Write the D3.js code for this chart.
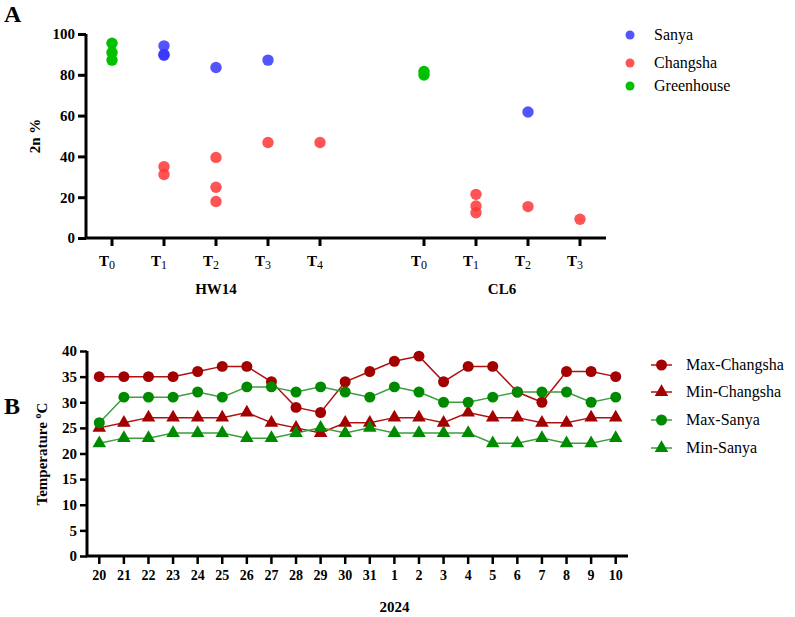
<!DOCTYPE html>
<html>
<head>
<meta charset="utf-8">
<script src="https://cdn.jsdelivr.net/npm/d3@7"></script>
<style>
  body { margin: 0; background: #fff; }
  svg text { font-family: "Liberation Serif", "Times New Roman", serif; }
</style>
</head>
<body>
<div id="chart"></div>
<script>
// ---- Panel A data: 2n % by time point, genotype and location ----
const slotsA = ["HW14-T0", "HW14-T1", "HW14-T2", "HW14-T3", "HW14-T4", "gap",
                "CL6-T0", "CL6-T1", "CL6-T2", "CL6-T3"];
const tickSubs = ["0", "1", "2", "3", "4", null, "0", "1", "2", "3"];
const groupsA = [{ name: "HW14", center: "HW14-T2" }, { name: "CL6", from: "CL6-T1", to: "CL6-T2" }];
const locations = ["Sanya", "Changsha", "Greenhouse"];
const sanyaPts = [
  ["HW14-T1", 94.2], ["HW14-T1", 89.6], ["HW14-T1", 90.0], ["HW14-T2", 83.6],
  ["HW14-T3", 87.2], ["CL6-T2", 61.8]
];
const changshaPts = [
  ["HW14-T1", 35.0], ["HW14-T1", 31.1], ["HW14-T2", 39.5], ["HW14-T2", 24.9],
  ["HW14-T2", 17.9], ["HW14-T3", 46.8], ["HW14-T4", 46.8],
  ["CL6-T1", 21.4], ["CL6-T1", 15.7], ["CL6-T1", 12.4], ["CL6-T2", 15.4], ["CL6-T3", 9.2]
];
const greenhousePts = [
  ["HW14-T0", 95.5], ["HW14-T0", 90.9], ["HW14-T0", 87.2],
  ["CL6-T0", 81.6], ["CL6-T0", 79.9]
];
const yTicksA = [0, 20, 40, 60, 80, 100];

// ---- Panel B data: daily temperature ----
const days = ["20", "21", "22", "23", "24", "25", "26", "27", "28", "29", "30", "31",
              "1", "2", "3", "4", "5", "6", "7", "8", "9", "10"];
const maxChangsha = [35, 35, 35, 35, 36, 37, 37, 34, 29, 28, 34, 36, 38, 39, 34, 37, 37, 32, 30, 36, 36, 35];
const minChangsha = [25, 26, 27, 27, 27, 27, 28, 26, 25, 24, 26, 26, 27, 27, 26, 28, 27, 27, 26, 26, 27, 27];
const maxSanya    = [26, 31, 31, 31, 32, 31, 33, 33, 32, 33, 32, 31, 33, 32, 30, 30, 31, 32, 32, 32, 30, 31];
const minSanya    = [22, 23, 23, 24, 24, 24, 23, 23, 24, 25, 24, 25, 24, 24, 24, 24, 22, 22, 23, 22, 22, 23];
const yTicksB = [0, 5, 10, 15, 20, 25, 30, 35, 40];

const FONT = "'Liberation Serif', 'Times New Roman', serif";
const svg = d3.select("#chart").append("svg")
  .attr("width", 795).attr("height", 617)
  .attr("font-family", FONT);

function styleAxis(ax, size) {
  ax.attr("font-family", FONT);
  ax.select(".domain").attr("stroke", "#000").attr("stroke-width", 3);
  ax.selectAll(".tick line").attr("stroke", "#000").attr("stroke-width", 3);
  ax.selectAll(".tick text").attr("font-size", size).attr("font-weight", "bold")
    .attr("fill", "#000").attr("font-family", FONT);
}

// ================= Panel A =================
const xA = d3.scaleBand().domain(slotsA).range([86, 606]);
const yA = d3.scaleLinear().domain([0, 100]).range([238, 34]);
const colorA = d3.scaleOrdinal().domain(locations).range(["#3636ff", "#ff3636", "#00c000"]);

svg.append("text").attr("x", 4).attr("y", 22)
  .attr("font-size", 24).attr("font-weight", "bold").text("A");

const gA = svg.append("g");
const yAxisA = gA.append("g").attr("transform", "translate(86,0)")
  .call(d3.axisLeft(yA).tickValues(yTicksA).tickSize(8).tickPadding(3));
const xAxisA = gA.append("g").attr("transform", "translate(0,238)")
  .call(d3.axisBottom(xA).tickValues(slotsA.filter(s => s !== "gap")).tickSize(8).tickFormat(""));
styleAxis(yAxisA, 15);
styleAxis(xAxisA, 15);
yAxisA.select(".domain").attr("d", "M0,238V34");
xAxisA.select(".domain").attr("d", "M85,0H606");

// T-subscript tick labels
slotsA.forEach((s, i) => {
  if (tickSubs[i] === null) return;
  const t = gA.append("text")
    .attr("x", xA(s) + xA.bandwidth() / 2 - 5).attr("y", 266)
    .attr("text-anchor", "middle").attr("font-size", 15);
  t.append("tspan").attr("font-weight", "bold").text("T");
  t.append("tspan").attr("font-size", 12).attr("dy", 3).text(tickSubs[i]);
});

groupsA.forEach(g => {
  const cx = g.center ? xA(g.center) + xA.bandwidth() / 2
    : (xA(g.from) + xA(g.to) + xA.bandwidth()) / 2;
  gA.append("text").attr("x", cx).attr("y", 294)
    .attr("text-anchor", "middle").attr("font-size", 15).attr("font-weight", "bold")
    .text(g.name);
});

gA.append("text")
  .attr("transform", "translate(40,136) rotate(-90)")
  .attr("text-anchor", "middle").attr("font-size", 15).attr("font-weight", "bold")
  .text("2n %");

const ptsA = [
  ...greenhousePts.map(d => ({ loc: "Greenhouse", slot: d[0], v: d[1] })),
  ...sanyaPts.map(d => ({ loc: "Sanya", slot: d[0], v: d[1] })),
  ...changshaPts.map(d => ({ loc: "Changsha", slot: d[0], v: d[1] }))
];
gA.selectAll("circle.pt").data(ptsA).enter().append("circle")
  .attr("class", "pt")
  .attr("cx", d => xA(d.slot) + xA.bandwidth() / 2)
  .attr("cy", d => yA(d.v))
  .attr("r", 5.7)
  .attr("fill", d => colorA(d.loc))
  .attr("fill-opacity", d => d.loc === "Greenhouse" ? 1 : 0.85);

const legA = svg.append("g");
const legAY = [35, 63, 86];
locations.forEach((loc, i) => {
  legA.append("circle").attr("cx", 630).attr("cy", legAY[i]).attr("r", 4.5)
    .attr("fill", colorA(loc)).attr("fill-opacity", loc === "Greenhouse" ? 1 : 0.85);
  legA.append("text").attr("x", 654).attr("y", legAY[i] + 5)
    .attr("font-size", 16).text(loc);
});

// ================= Panel B =================
const xB = d3.scaleBand().domain(days).range([87, 628]);
const yB = d3.scaleLinear().domain([0, 40]).range([556, 351]);
const cx = d => xB(d) + xB.bandwidth() / 2;

svg.append("text").attr("x", 4).attr("y", 414)
  .attr("font-size", 24).attr("font-weight", "bold").text("B");

const gB = svg.append("g");
const yAxisB = gB.append("g").attr("transform", "translate(87,0)")
  .call(d3.axisLeft(yB).tickValues(yTicksB).tickSize(7).tickPadding(3));
const xAxisB = gB.append("g").attr("transform", "translate(0,556)")
  .call(d3.axisBottom(xB).tickSize(8).tickPadding(6));
styleAxis(yAxisB, 15);
styleAxis(xAxisB, 14);
yAxisB.selectAll(".tick line").attr("stroke-width", 2.5);
xAxisB.selectAll(".tick line").attr("stroke-width", 2.5);
yAxisB.select(".domain").attr("d", "M0,556V351");
xAxisB.select(".domain").attr("d", "M86,0H628");

gB.append("text").attr("x", cx("1")).attr("y", 612)
  .attr("text-anchor", "middle").attr("font-size", 15).attr("font-weight", "bold")
  .text("2024");

const yLab = gB.append("text")
  .attr("transform", "translate(47,454) rotate(-90)")
  .attr("text-anchor", "middle").attr("font-size", 15).attr("font-weight", "bold");
yLab.append("tspan").text("Temperature ");
yLab.append("tspan").attr("font-size", 10).attr("dy", -6).text("o");
yLab.append("tspan").attr("dy", 6).text("C");

const seriesB = [
  { name: "Max-Changsha", values: maxChangsha, color: "#a30000", line: "#b01010", shape: d3.symbolCircle },
  { name: "Min-Changsha", values: minChangsha, color: "#a30000", line: "#b01010", shape: d3.symbolTriangle },
  { name: "Max-Sanya", values: maxSanya, color: "#008a00", line: "#3c9e3c", shape: d3.symbolCircle },
  { name: "Min-Sanya", values: minSanya, color: "#008a00", line: "#3c9e3c", shape: d3.symbolTriangle }
];
const lineB = d3.line().x((d, i) => cx(days[i])).y(d => yB(d));
const symSize = s => s === d3.symbolCircle ? 95 : 80;

seriesB.forEach(s => {
  gB.append("path").datum(s.values)
    .attr("d", lineB).attr("fill", "none")
    .attr("stroke", s.line).attr("stroke-width", 1.5);
});
seriesB.forEach(s => {
  gB.selectAll(null).data(s.values).enter().append("path")
    .attr("transform", (d, i) => `translate(${cx(days[i])},${yB(d)})`)
    .attr("d", d3.symbol().type(s.shape).size(symSize(s.shape)))
    .attr("fill", s.color);
});

const legBY = [365, 392, 420, 448];
seriesB.forEach((s, i) => {
  legA.append("line").attr("x1", 651).attr("x2", 672)
    .attr("y1", legBY[i]).attr("y2", legBY[i])
    .attr("stroke", s.line).attr("stroke-width", 1.5);
  legA.append("path").attr("transform", `translate(661.5,${legBY[i]})`)
    .attr("d", d3.symbol().type(s.shape).size(symSize(s.shape))).attr("fill", s.color);
  legA.append("text").attr("x", 686).attr("y", legBY[i] + 5)
    .attr("font-size", 16).text(s.name);
});
</script>
</body>
</html>
